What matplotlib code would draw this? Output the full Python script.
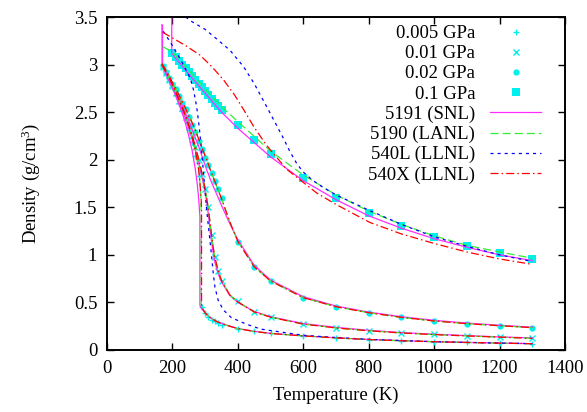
import numpy as np
import matplotlib
matplotlib.use("Agg")
import matplotlib.pyplot as plt

plt.rcParams['font.family'] = ['Liberation Serif', 'DejaVu Serif']
plt.rcParams['mathtext.fontset'] = 'custom'
plt.rcParams['mathtext.rm'] = 'Liberation Serif'
plt.rcParams['mathtext.default'] = 'rm'
plt.rcParams['lines.scale_dashes'] = False

# --- reference points (cyan markers) ---
T_hi = [400, 450, 500, 600, 700, 800, 900, 1000, 1100, 1200, 1300]

p005_T = [170, 180, 190, 200, 210, 220, 230, 240, 250, 260, 270, 280,
          290, 300, 310, 320, 330, 340, 350] + T_hi
p005_d = [2.96, 2.90, 2.83, 2.76, 2.68, 2.60, 2.51, 2.42, 2.31, 2.19, 2.04, 1.83,
          0.455, 0.39, 0.35, 0.32, 0.30, 0.28, 0.265,
          0.225, 0.197, 0.175, 0.150, 0.128, 0.110, 0.097, 0.087, 0.079, 0.072, 0.066]

p01_T = list(range(170, 351, 10)) + T_hi
p01_d = [2.97, 2.91, 2.84, 2.77, 2.70, 2.62, 2.54, 2.45, 2.35, 2.25, 2.13, 2.00,
         1.85, 1.69, 1.50, 1.21, 0.98, 0.83, 0.72,
         0.51, 0.40, 0.35, 0.273, 0.235, 0.203, 0.179, 0.163, 0.148, 0.134, 0.122]

p02_T = list(range(170, 351, 10)) + T_hi
p02_d = [2.98, 2.92, 2.86, 2.80, 2.74, 2.67, 2.60, 2.53, 2.45, 2.37, 2.29, 2.20,
         2.11, 2.02, 1.94, 1.86, 1.78, 1.69, 1.60,
         1.14, 0.876, 0.725, 0.55, 0.455, 0.392, 0.342, 0.303, 0.277, 0.256, 0.235]

p1_T = list(range(200, 351, 10)) + T_hi
p1_d = [3.12, 3.08, 3.04, 3.00, 2.96, 2.92, 2.88, 2.84, 2.80, 2.76, 2.72, 2.68,
        2.64, 2.60, 2.56, 2.52,
        2.37, 2.21, 2.06, 1.81, 1.60, 1.44, 1.30, 1.19, 1.09, 1.02, 0.957]

# --- model curves ---
# 0.005 GPa
lanl_005_T = [168, 180, 190, 200, 210, 220, 230, 240, 250, 260, 270, 280, 284, 287, 288,
              288, 292, 300, 310, 320, 335, 350, 375, 400, 450, 500, 600, 700, 800,
              900, 1000, 1100, 1200, 1300]
lanl_005_d = [3.00, 2.92, 2.86, 2.79, 2.71, 2.63, 2.55, 2.46, 2.36, 2.24, 2.10, 1.90, 1.76, 1.58, 1.45,
              0.47, 0.43, 0.39, 0.355, 0.33, 0.30, 0.28, 0.25, 0.225, 0.195, 0.174, 0.148, 0.127, 0.110,
              0.097, 0.087, 0.079, 0.072, 0.066]
x540_005_T = [168, 180, 190, 200, 210, 220, 230, 240, 250, 260, 270, 280, 284, 288, 289,
              289, 293, 300, 310, 320, 335, 350, 375, 400, 450, 500, 600, 700, 800,
              900, 1000, 1100, 1200, 1300]
x540_005_d = lanl_005_d
snl_005_T = [168, 168.5, 180, 190, 200, 210, 220, 230, 240, 250, 260, 270, 276, 280, 284,
             284, 290, 300, 310, 320, 335, 350, 375, 400, 450, 500, 600, 700, 800,
             900, 1000, 1100, 1200, 1300]
snl_005_d = [3.42, 3.00, 2.90, 2.83, 2.75, 2.67, 2.58, 2.49, 2.38, 2.25, 2.10, 1.90, 1.74, 1.60, 1.40,
             0.47, 0.43, 0.39, 0.355, 0.33, 0.30, 0.28, 0.25, 0.226, 0.196, 0.175, 0.149, 0.128, 0.111,
             0.098, 0.088, 0.080, 0.073, 0.067]
llnl_005_T = [172, 200, 230, 254, 264, 274, 282, 290, 298, 305, 310, 315, 320, 325,
              330, 340, 356, 380, 427, 470, 529, 600, 682, 800, 1000, 1300]
llnl_005_d = [3.35, 3.20, 3.02, 2.86, 2.74, 2.56, 2.34, 2.06, 1.74, 1.46, 1.30, 1.14, 0.98, 0.80,
              0.66, 0.52, 0.42, 0.34, 0.27, 0.22, 0.19, 0.155, 0.135, 0.112, 0.087, 0.066]

# 0.01 and 0.02 GPa share one temperature grid
T_grid = [168, 180, 190, 200, 210, 220, 230, 240, 250, 260, 270, 280, 290, 300, 305, 310,
          315, 320, 325, 330, 340, 350, 375, 400, 450, 500, 600, 700, 800, 900, 1000,
          1100, 1200, 1300]
lanl_01_d = [3.00, 2.93, 2.86, 2.79, 2.71, 2.63, 2.55, 2.46, 2.36, 2.26, 2.14, 2.01, 1.86, 1.69, 1.59, 1.48,
             1.34, 1.20, 1.07, 0.97, 0.83, 0.73, 0.58, 0.505, 0.40, 0.345, 0.272, 0.232, 0.202, 0.179, 0.162,
             0.148, 0.135, 0.123]
snl_01_d = [3.00, 2.91, 2.84, 2.77, 2.69, 2.61, 2.52, 2.43, 2.33, 2.22, 2.10, 1.97, 1.82, 1.66, 1.55, 1.42,
            1.27, 1.13, 1.01, 0.92, 0.80, 0.715, 0.575, 0.50, 0.405, 0.35, 0.278, 0.238, 0.207, 0.183, 0.166,
            0.151, 0.138, 0.127]
lanl_02_d = [3.01, 2.94, 2.88, 2.81, 2.75, 2.68, 2.61, 2.54, 2.46, 2.39, 2.31, 2.22, 2.13, 2.04, 2.00, 1.95,
             1.90, 1.86, 1.81, 1.77, 1.68, 1.59, 1.35, 1.14, 0.875, 0.725, 0.55, 0.455, 0.392, 0.343, 0.305,
             0.277, 0.255, 0.235]
snl_02_d = [3.00, 2.92, 2.86, 2.79, 2.72, 2.65, 2.57, 2.49, 2.41, 2.32, 2.23, 2.14, 2.04, 1.94, 1.89, 1.85,
            1.80, 1.76, 1.72, 1.68, 1.60, 1.52, 1.33, 1.16, 0.89, 0.735, 0.56, 0.462, 0.398, 0.350, 0.312,
            0.283, 0.260, 0.240]
snl_solid_T = [168, 168]
snl_solid_d = [3.42, 3.00]

# 0.1 GPa
snl_1_T = [198, 198, 200, 250, 300, 350, 400, 500, 600, 700, 800, 900, 1000, 1100, 1200, 1300]
snl_1_d = [3.70, 3.12, 3.11, 2.90, 2.70, 2.50, 2.33, 2.03, 1.78, 1.58, 1.41, 1.28, 1.17, 1.08, 1.00, 0.94]
lanl_1_T = [170, 200, 250, 300, 350, 400, 500, 600, 700, 800, 900, 1000, 1100, 1200, 1300]
lanl_1_d = [3.19, 3.13, 2.94, 2.74, 2.56, 2.40, 2.09, 1.84, 1.63, 1.46, 1.32, 1.20, 1.10, 1.03, 0.965]
llnl_1_T = [240, 260, 300, 335, 376, 417, 450, 483, 514, 540, 560, 580, 600, 630, 660, 700, 750,
            800, 900, 1000, 1100, 1200, 1300]
llnl_1_d = [3.50, 3.45, 3.37, 3.27, 3.15, 2.98, 2.80, 2.59, 2.39, 2.22, 2.08, 1.96, 1.87, 1.78, 1.71,
            1.63, 1.55, 1.47, 1.32, 1.19, 1.09, 1.00, 0.93]
x540_1_T = [170, 200, 240, 284, 320, 356, 390, 417, 450, 488, 549, 641, 700, 804, 900, 1000, 1100,
            1200, 1300]
x540_1_d = [3.34, 3.28, 3.20, 3.10, 2.98, 2.84, 2.68, 2.53, 2.34, 2.15, 1.90, 1.65, 1.53, 1.34, 1.22,
            1.12, 1.03, 0.957, 0.90]

xticks = [0, 200, 400, 600, 800, 1000, 1200, 1400]
yticks = [0, 0.5, 1, 1.5, 2, 2.5, 3, 3.5]
ytick_labels = ['0', '0.5', '1', '1.5', '2', '2.5', '3', '3.5']

cyan = '#00f0f0'
magenta = '#ff2cff'
green = '#33ee33'
blue = '#0000ff'
red = '#ff0000'
lw = 0.9
st_snl = dict(color=magenta, lw=lw, ls='-')
st_lanl = dict(color=green, lw=lw, ls=(0, (5.8, 2.9)))
st_llnl = dict(color=blue, lw=lw, ls=(0, (2.2, 2.9)))
st_x540 = dict(color=red, lw=lw, ls=(0, (5.8, 2.2, 1.1, 2.2)))

fs = 13.5

fig = plt.figure(figsize=(5.87, 4.12), dpi=100)
ax = fig.add_axes([107 / 587, 62 / 412, 458 / 587, 333 / 412])

ax.plot(p005_T, p005_d, ls='none', marker='+', ms=5, mew=1, color=cyan, label='0.005 GPa')
ax.plot(p01_T, p01_d, ls='none', marker='x', ms=4, mew=1, color=cyan, label='0.01 GPa')
ax.plot(p02_T, p02_d, ls='none', marker='o', ms=4.5, mew=0, color=cyan, label='0.02 GPa')
ax.plot(p1_T, p1_d, ls='none', marker='s', ms=5.5, mew=0, color=cyan, label='0.1 GPa')

# SNL
ax.plot(snl_005_T, snl_005_d, **st_snl, label='5191 (SNL)')
ax.plot(T_grid, snl_01_d, **st_snl)
ax.plot(T_grid, snl_02_d, **st_snl)
ax.plot(snl_solid_T, snl_solid_d, **st_snl)
ax.plot(snl_1_T, snl_1_d, **st_snl)
# LANL
ax.plot(lanl_005_T, lanl_005_d, **st_lanl, label='5190 (LANL)')
ax.plot(T_grid, lanl_01_d, **st_lanl)
ax.plot(T_grid, lanl_02_d, **st_lanl)
ax.plot(lanl_1_T, lanl_1_d, **st_lanl)
# 540L
ax.plot(llnl_005_T, llnl_005_d, **st_llnl, label='540L (LLNL)')
ax.plot(llnl_1_T, llnl_1_d, **st_llnl)
# 540X
ax.plot(x540_005_T, x540_005_d, **st_x540, label='540X (LLNL)')
ax.plot(T_grid, lanl_01_d, **st_x540)
ax.plot(T_grid, lanl_02_d, **st_x540)
ax.plot(x540_1_T, x540_1_d, **st_x540)

ax.set_xlim(0, 1400)
ax.set_ylim(0, 3.5)
ax.set_xticks(xticks)
ax.set_yticks(yticks)
ax.set_yticklabels(ytick_labels)
ax.tick_params(direction='in', length=5, width=1, top=True, right=True,
               labelsize=fs, pad=7)
for s in ax.spines.values():
    s.set_linewidth(1.4)
ax.set_xlabel('Temperature (K)', fontsize=fs, labelpad=7)
ax.set_ylabel('Density (g/cm$^{3}$)', fontsize=fs, labelpad=23)

ax.legend(loc='upper right', bbox_to_anchor=((541 - 107) / 458, (350 - 25) / 333),
          frameon=False, markerfirst=False, fontsize=fs, handlelength=2.7,
          handletextpad=0.8, labelspacing=0.16, borderpad=0, borderaxespad=0)

fig.savefig('out.png', dpi=100)
